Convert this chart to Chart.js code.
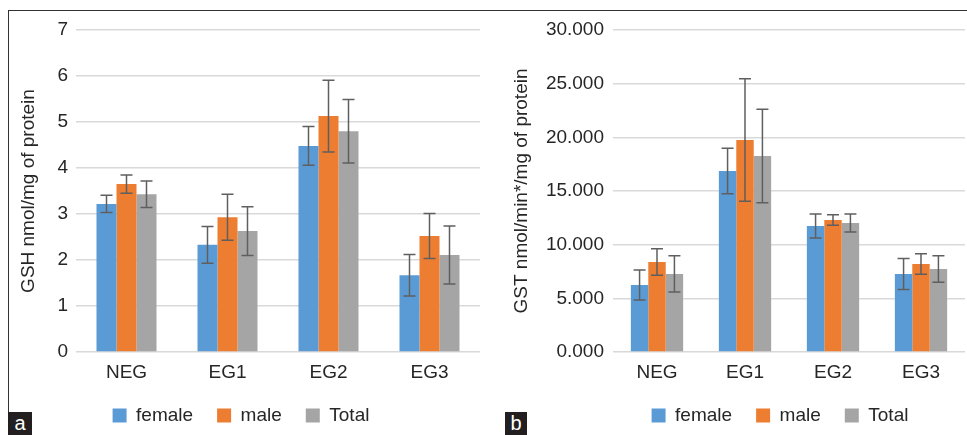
<!DOCTYPE html>
<html><head><meta charset="utf-8">
<script src="https://cdn.jsdelivr.net/npm/chart.js@4/dist/chart.umd.min.js"></script>
<style>
html,body{margin:0;padding:0;background:#fff;width:967px;height:435px;overflow:hidden;position:relative;font-family:"Liberation Sans",Arial,sans-serif;}
.wrap{position:absolute;top:0;height:435px;}
#w1{left:0;width:480px;}
#w2{left:485px;width:482px;}
.frameTop{position:absolute;left:8px;top:10px;width:959px;height:1px;background:#333;z-index:5;}
.frameLeft{position:absolute;left:8px;top:10px;width:1px;height:425px;background:#333;z-index:5;}
.tag{position:absolute;top:412px;height:23px;background:#231f20;color:#fff;font-size:20px;line-height:22px;text-align:center;z-index:6;}
</style>
</head><body>
<div class="wrap" id="w1"><canvas id="c1" width="480" height="435"></canvas></div>
<div class="wrap" id="w2"><canvas id="c2" width="482" height="435"></canvas></div>
<div class="frameTop"></div><div class="frameLeft"></div>
<div class="tag" style="left:8px;width:24px;">a</div>
<div class="tag" style="left:505px;width:22px;">b</div>
<script>
const categories = ['NEG','EG1','EG2','EG3'];
const seriesNames = ['female','male','Total'];
const seriesColors = ['#5B9BD5','#ED7D31','#A5A5A5'];

const gshFemale = [3.22, 2.33, 4.48, 1.67];
const gshMale   = [3.65, 2.93, 5.13, 2.52];
const gshTotal  = [3.43, 2.63, 4.80, 2.11];
const gshFemaleErr = [0.19, 0.40, 0.42, 0.45];
const gshMaleErr   = [0.20, 0.50, 0.78, 0.49];
const gshTotalErr  = [0.29, 0.53, 0.69, 0.63];
const gshTicks = ['0','1','2','3','4','5','6','7'];

const gstFemale = [6.24, 16.86, 11.74, 7.27];
const gstMale   = [8.39, 19.75, 12.30, 8.20];
const gstTotal  = [7.27, 18.26, 12.02, 7.73];
const gstFemaleErr = [1.40, 2.12, 1.12, 1.45];
const gstMaleErr   = [1.23, 5.70, 0.48, 0.95];
const gstTotalErr  = [1.69, 4.36, 0.84, 1.23];
const gstTicks = ['0.000','5.000','10.000','15.000','20.000','25.000','30.000'];

const TXT = '#262626';
Chart.defaults.font.family = '"Liberation Sans", Arial, sans-serif';
Chart.defaults.color = TXT;

const errorBars = {
  id: 'errorBars',
  afterDatasetsDraw(chart) {
    const ctx = chart.ctx, y = chart.scales.y;
    chart.data.datasets.forEach((ds, i) => {
      const meta = chart.getDatasetMeta(i);
      meta.data.forEach((bar, j) => {
        const v = ds.data[j], e = ds.errors[j];
        const yt = y.getPixelForValue(v + e), yb = y.getPixelForValue(v - e);
        const x = bar.x;
        ctx.save();
        ctx.strokeStyle = '#5f5f5f';
        ctx.lineWidth = 1.5;
        ctx.beginPath();
        ctx.moveTo(x, yt); ctx.lineTo(x, yb);
        ctx.moveTo(x - 6, yt); ctx.lineTo(x + 6, yt);
        ctx.moveTo(x - 6, yb); ctx.lineTo(x + 6, yb);
        ctx.stroke();
        ctx.restore();
      });
    });
  }
};

const legendShift = {
  id: 'legendShift',
  afterLayout(chart, args, opts) {
    const l = chart.legend;
    if (l && opts && opts.dx) { l.left += opts.dx; l.right += opts.dx; }
  }
};

function makeDatasets(vals, errs) {
  return seriesNames.map((n, i) => ({
    label: n,
    data: vals[i],
    errors: errs[i],
    backgroundColor: seriesColors[i],
    borderWidth: 0,
    categoryPercentage: 0.594,
    barPercentage: 1.0
  }));
}

function makeChart(id, vals, errs, tickLabels, max, step, title, cfg) {
  return new Chart(document.getElementById(id), {
    type: 'bar',
    data: { labels: categories, datasets: makeDatasets(vals, errs) },
    plugins: [errorBars, legendShift],
    options: {
      responsive: false,
      devicePixelRatio: 1,
      animation: false,
      layout: { padding: { top: 30, right: cfg.padRight, bottom: 0, left: 0 } },
      plugins: {
        tooltip: { enabled: false },
        legendShift: { dx: cfg.dx },
        legend: {
          position: 'bottom',
          labels: { boxWidth: 14, boxHeight: 14, padding: 24, font: { size: 19 }, color: TXT }
        }
      },
      scales: {
        x: {
          grid: { display: false, drawTicks: false },
          border: { display: false },
          ticks: { font: { size: 19 }, color: TXT, padding: 9 },
          afterFit(s) { s.height = 30; s.paddingLeft = 0; s.paddingRight = 0; }
        },
        y: {
          min: 0, max: max,
          grid: { color: '#d9d9d9', lineWidth: 1.5, drawTicks: false },
          border: { display: false },
          ticks: { stepSize: step, font: { size: 19 }, color: TXT, padding: cfg.tickPad,
                   callback: (v, i) => tickLabels[i] },
          title: { display: true, text: title, font: { size: 19 }, color: TXT,
                   padding: { top: cfg.titlePad, bottom: 0 } },
          afterFit(s) { s.width = cfg.yWidth; s.paddingTop = 0; s.paddingBottom = 0; }
        }
      }
    }
  });
}

makeChart('c1', [gshFemale, gshMale, gshTotal], [gshFemaleErr, gshMaleErr, gshTotalErr],
  gshTicks, 7, 1, 'GSH nmol/mg of protein',
  { padRight: 0, dx: 1, yWidth: 76, tickPad: 8, titlePad: 17 });
makeChart('c2', [gstFemale, gstMale, gstTotal], [gstFemaleErr, gstMaleErr, gstTotalErr],
  gstTicks, 30, 5, 'GST nmol/min*/mg of protein',
  { padRight: 2, dx: 55, yWidth: 128, tickPad: 9, titlePad: 25 });
</script>
</body></html>
